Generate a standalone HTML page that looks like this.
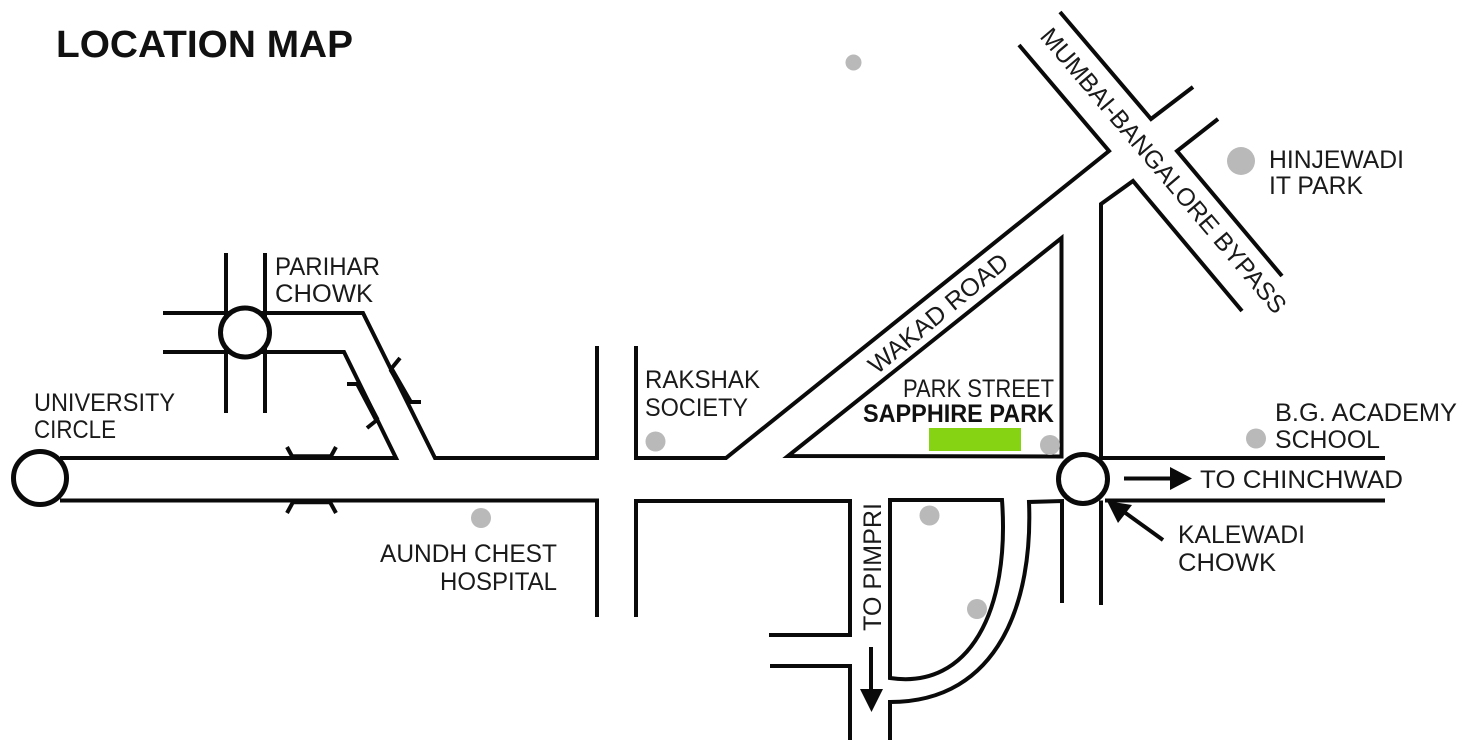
<!DOCTYPE html>
<html>
<head>
<meta charset="utf-8">
<title>Location Map</title>
<style>
html,body{margin:0;padding:0;background:#fff;width:1468px;height:751px;overflow:hidden}
svg{display:block}
text{font-family:"Liberation Sans",sans-serif;fill:#1a1a1a;font-size:25px}
.b{font-weight:bold;fill:#111}
.l{fill:none;stroke:#0a0a0a;stroke-width:4;stroke-linejoin:miter;stroke-linecap:butt}
.t{fill:none;stroke:#0a0a0a;stroke-width:6}
.c{fill:#fff;stroke:#0a0a0a;stroke-width:5}
.d{fill:#b9b9b9}
</style>
</head>
<body>
<svg width="1468" height="751" viewBox="0 0 1468 751" xmlns="http://www.w3.org/2000/svg">
<rect width="1468" height="751" fill="#fff"/>

<!-- Roads -->
<path class="l" d="M60 458H396L344 352H226M163 352H226"/>
<path class="l" d="M163 313H363L435 458H597V346"/>
<path class="l" d="M226 253V413M265 253V413"/>
<path class="l" d="M60 500.500H597V617"/>
<path class="l" d="M636 346V458H726L1109 151L1019 45"/>
<path class="l" d="M1060 12L1151 119L1193 87"/>
<path class="l" d="M1218 119L1177 151L1282 276"/>
<path class="l" d="M1242 311L1133 181L1101 204V458H1385"/>
<path class="l" d="M1061.500 238V456.500L788 456Z"/>
<path class="l" d="M1105 500.500H1385"/>
<path class="l" d="M1101 500.500V605M1062 603V501L1029 502C1033 600 1000 702 890 702V740"/>
<path class="l" d="M890 678V500H1002C1010 610 970 690 890 678Z"/>
<path class="l" d="M636 617V501H850V635H769"/>
<path class="l" d="M770 666H850V740"/>

<!-- Bridge ticks -->
<path class="l" d="M347 384H358M377 420L367 428M400 358L391 369M409 402H421"/>
<path class="l" d="M287 447L293 458M336 447L330 458M293 502L287 513M330 502L336 513"/>
<path class="t" style="stroke-width:5.500" d="M358 384L377 420M391 369L410 402"/>
<path class="t" style="stroke-width:5.500" d="M293 457H330M293 501.500H330"/>

<!-- Circles -->
<circle class="c" cx="40" cy="478" r="26.500"/>
<circle class="c" cx="245" cy="332.500" r="24.500"/>
<circle class="c" cx="1083" cy="479" r="24.500"/>

<!-- Dots -->
<circle class="d" cx="853.500" cy="62.500" r="8"/>
<circle class="d" cx="1241" cy="161" r="14"/>
<circle class="d" cx="655.500" cy="441.500" r="10"/>
<circle class="d" cx="481" cy="518" r="10"/>
<circle class="d" cx="1256" cy="438.500" r="10"/>
<circle class="d" cx="1050" cy="445" r="10"/>
<circle class="d" cx="929.500" cy="515.500" r="10"/>
<circle class="d" cx="977" cy="609" r="10"/>

<!-- Sapphire Park marker -->
<rect x="929" y="428" width="92" height="23" fill="#85d312"/>

<!-- Arrows -->
<path class="l" d="M871 647V692"/>
<path d="M860 689H883L871.500 712Z" fill="#0a0a0a"/>
<path class="l" d="M1124 478.500H1172"/>
<path d="M1170 467L1192 478.500L1170 490Z" fill="#0a0a0a"/>
<path class="l" d="M1163 540L1120 509"/>
<path d="M1107 501L1132 505L1118 523Z" fill="#0a0a0a"/>

<!-- Labels -->
<text class="b" x="56" y="57" style="font-size:38px" textLength="297" lengthAdjust="spacingAndGlyphs">LOCATION MAP</text>
<text x="34" y="411" textLength="141" lengthAdjust="spacingAndGlyphs">UNIVERSITY</text>
<text x="34" y="438" textLength="82" lengthAdjust="spacingAndGlyphs">CIRCLE</text>
<text x="275" y="275" textLength="105" lengthAdjust="spacingAndGlyphs">PARIHAR</text>
<text x="275" y="302" textLength="98" lengthAdjust="spacingAndGlyphs">CHOWK</text>
<text x="645" y="388" textLength="115" lengthAdjust="spacingAndGlyphs">RAKSHAK</text>
<text x="645" y="416" textLength="103" lengthAdjust="spacingAndGlyphs">SOCIETY</text>
<text x="380" y="562" textLength="177" lengthAdjust="spacingAndGlyphs">AUNDH CHEST</text>
<text x="440" y="590" textLength="117" lengthAdjust="spacingAndGlyphs">HOSPITAL</text>
<text x="903" y="397" textLength="151" lengthAdjust="spacingAndGlyphs">PARK STREET</text>
<text class="b" x="863" y="422" textLength="191" lengthAdjust="spacingAndGlyphs">SAPPHIRE PARK</text>
<text x="1269" y="168" textLength="135" lengthAdjust="spacingAndGlyphs">HINJEWADI</text>
<text x="1269" y="194" textLength="94" lengthAdjust="spacingAndGlyphs">IT PARK</text>
<text x="1275" y="421" textLength="182" lengthAdjust="spacingAndGlyphs">B.G. ACADEMY</text>
<text x="1275" y="448" textLength="105" lengthAdjust="spacingAndGlyphs">SCHOOL</text>
<text x="1200" y="488" textLength="203" lengthAdjust="spacingAndGlyphs">TO CHINCHWAD</text>
<text x="1178" y="543" textLength="127" lengthAdjust="spacingAndGlyphs">KALEWADI</text>
<text x="1178" y="571" textLength="98" lengthAdjust="spacingAndGlyphs">CHOWK</text>
<text transform="translate(881 631) rotate(-90)" textLength="128" lengthAdjust="spacingAndGlyphs">TO PIMPRI</text>
<text transform="translate(877 375) rotate(-39.500)" textLength="173" lengthAdjust="spacingAndGlyphs">WAKAD ROAD</text>
<text transform="translate(1039 37) rotate(49.700)" textLength="365" lengthAdjust="spacingAndGlyphs">MUMBAI-BANGALORE BYPASS</text>
</svg>
</body>
</html>
